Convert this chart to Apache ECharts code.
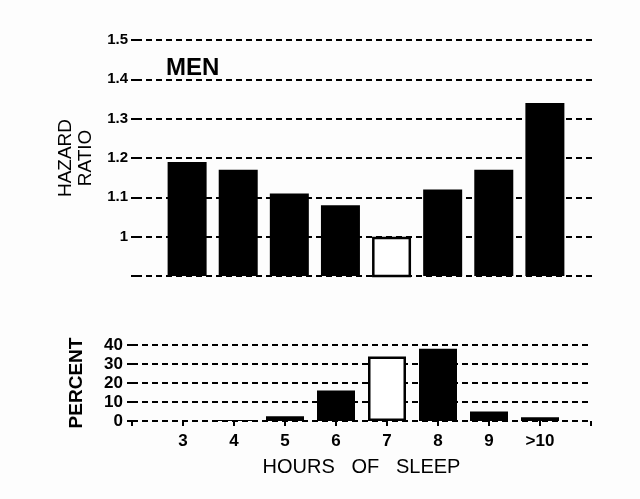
<!DOCTYPE html>
<html>
<head>
<meta charset="utf-8">
<script src="https://cdn.jsdelivr.net/npm/echarts@6/dist/echarts.min.js"></script>
<style>
html,body{margin:0;padding:0;background:#fdfdfd;}
#chart{width:640px;height:499px;}
</style>
</head>
<body>
<div id="chart"></div>
<script>
// hours of sleep categories (blank slots at both ends of the axis)
var hours = ['', '3', '4', '5', '6', '7', '8', '9', '>10', ''];
var hazardRatio = [null, 1.19, 1.17, 1.11, 1.08, 1.00, 1.12, 1.17, 1.34, null];
var percent = [null, 0, 0.5, 2.5, 16, 34, 38, 5, 2, null];
var refHour = '7';

var font = 'Liberation Sans, Arial, sans-serif';
var dash = { color: '#000', width: 2.2, type: [6, 4] };

function styled(arr) {
	return arr.map(function (v, i) {
		if (hours[i] === refHour) {
			return { value: v, itemStyle: { color: '#fff', borderColor: '#000', borderWidth: 2.5 } };
		}
		return v;
	});
}

var myChart = echarts.init(document.getElementById('chart'));
var option = {
	backgroundColor: '#fdfdfd',
	animation: false,
	textStyle: { fontFamily: font, color: '#000' },
	title: {
		text: 'MEN', left: 161, top: 51,
		textStyle: { fontFamily: font, fontSize: 24, fontWeight: 'bold', color: '#000' }
	},
	grid: [
		{ left: 136, right: 44, top: 40, bottom: 223 },
		{ left: 132, right: 49, top: 345, bottom: 78 }
	],
	xAxis: [{
		gridIndex: 0, type: 'category', data: hours, boundaryGap: false,
		axisLine: { show: false }, axisTick: { show: false }, axisLabel: { show: false }
	}, {
		gridIndex: 1, type: 'category', data: hours, boundaryGap: false,
		axisLine: { show: false },
		axisTick: { show: true, length: 5, lineStyle: { color: '#000', width: 2 } },
		axisLabel: { margin: 12, fontSize: 17, fontWeight: 'bold', color: '#000', fontFamily: font },
		name: 'HOURS   OF   SLEEP', nameLocation: 'middle', nameGap: 36,
		nameTextStyle: { fontSize: 20, color: '#000', fontFamily: font }
	}],
	yAxis: [{
		gridIndex: 0, type: 'value', min: 0.9, max: 1.5, interval: 0.1,
		axisLine: { show: false },
		axisTick: { show: true, length: 5, lineStyle: { color: '#000', width: 2 } },
		splitLine: { show: true, lineStyle: dash },
		axisLabel: {
			margin: 8, fontSize: 15, fontWeight: 'bold', color: '#000', fontFamily: font,
			formatter: function (v) { return v < 0.95 ? '' : String(+v.toFixed(1)); }
		},
		name: 'HAZARD\nRATIO', nameLocation: 'middle', nameRotate: 90, nameGap: 40,
		nameTextStyle: { fontSize: 19, lineHeight: 20, color: '#000', fontFamily: font }
	}, {
		gridIndex: 1, type: 'value', min: 0, max: 40, interval: 10,
		axisLine: { show: false },
		axisTick: { show: true, length: 5, lineStyle: { color: '#000', width: 2 } },
		splitLine: { show: true, lineStyle: dash },
		axisLabel: { margin: 9, fontSize: 17, fontWeight: 'bold', color: '#000', fontFamily: font },
		name: 'PERCENT', nameLocation: 'middle', nameRotate: 90, nameGap: 46,
		nameTextStyle: { fontSize: 19, fontWeight: 'bold', color: '#000', fontFamily: font }
	}],
	series: [{
		type: 'bar', xAxisIndex: 0, yAxisIndex: 0, barWidth: 39,
		itemStyle: { color: '#000' }, data: styled(hazardRatio)
	}, {
		type: 'bar', xAxisIndex: 1, yAxisIndex: 1, barWidth: 38,
		itemStyle: { color: '#000' }, data: styled(percent)
	}]
};
myChart.setOption(option);
</script>
</body>
</html>
